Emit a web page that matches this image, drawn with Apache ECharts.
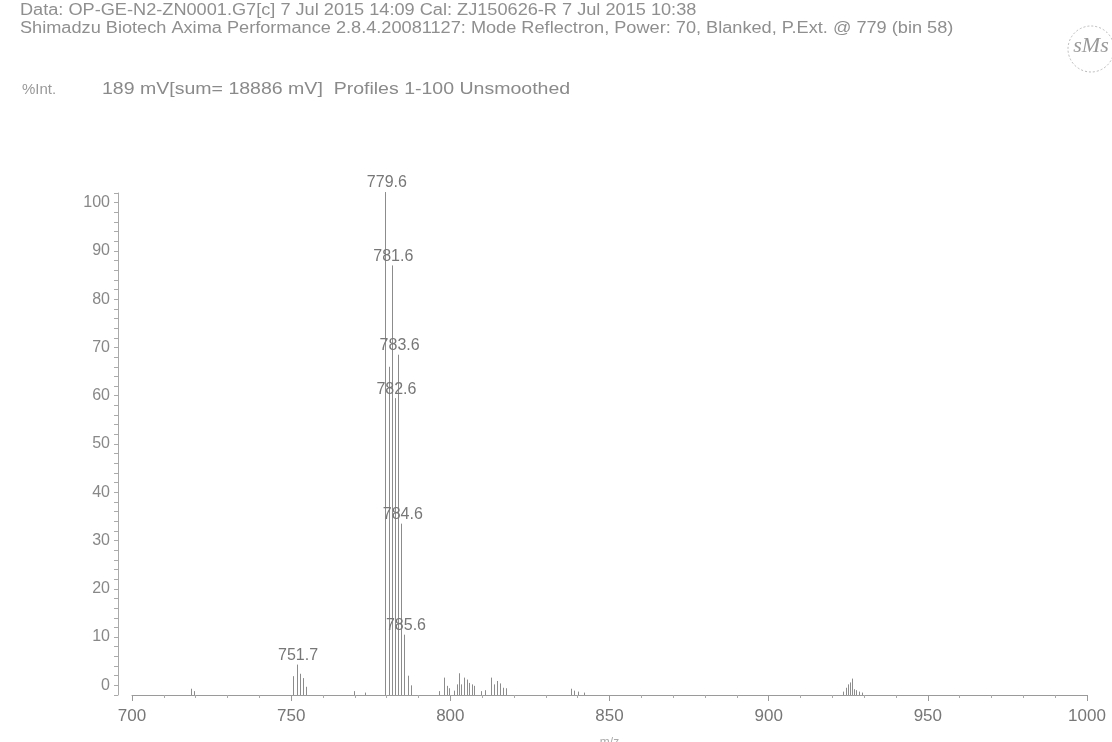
<!DOCTYPE html>
<html>
<head>
<meta charset="utf-8">
<script src="https://cdn.jsdelivr.net/npm/echarts@6/dist/echarts.min.js"></script>
<style>
html,body{margin:0;padding:0;background:#fff;}
#chart{width:1112px;height:742px;}
</style>
</head>
<body>
<div id="chart"></div>
<script>
// m/z of each stick and its intensity read against the printed %Int. axis
const peakMz = [
  718.6, 719.4, 769.7, 773.3,
  750.7, 751.7, 752.7, 753.7, 754.7,
  779.6, 780.6, 781.6, 782.6, 783.6, 784.6, 785.6, 786.6, 787.6,
  796.5, 797.9, 798.8, 799.6, 801.2, 802.1, 802.8, 803.5, 804.4, 805.1, 805.8, 806.7, 807.5,
  809.5, 811.0, 812.9, 813.8, 814.8, 815.5, 816.6, 817.6,
  837.9, 839.0, 840.0, 842.1,
  923.5, 924.2, 924.9, 925.5, 926.2, 926.9, 927.5, 928.3, 929.2
];
const peakInt = [
  -0.7, -1.2, -1.2, -1.5,
  1.9, 4.3, 2.4, 1.5, -0.3,
  102.2, 66, 87, 59.5, 68.5, 33.5, 10.5, 2, 0,
  -1.2, 1.6, -0.1, -0.6, -1.1, 0.2, 2.5, 0.2, 1.6, 1.2, 0.5, 0.2, -0.1,
  -1.2, -1.0, 1.6, 0.2, 0.9, 0.4, -0.5, -0.6,
  -0.7, -1.1, -1.3, -1.5,
  -1.3, -0.5, 0.2, 0.6, 1.4, -0.8, -1.0, -1.3, -1.5
];
// peaks that carry an m/z label
const labeledMz = [751.7, 779.6, 781.6, 782.6, 783.6, 784.6, 785.6];
// axis tick labels
const xTicks = [700, 750, 800, 850, 900, 950, 1000];
const yTicks = [0, 10, 20, 30, 40, 50, 60, 70, 80, 90, 100];

const header1 = 'Data: OP-GE-N2-ZN0001.G7[c] 7 Jul 2015 14:09 Cal: ZJ150626-R 7 Jul 2015 10:38';
const header2 = 'Shimadzu Biotech Axima Performance 2.8.4.20081127: Mode Reflectron, Power: 70, Blanked, P.Ext. @ 779 (bin 58)';
const yUnit = '%Int.';
const header3 = '189 mV[sum= 18886 mV]  Profiles 1-100 Unsmoothed';

const Y_MIN = -2, Y_MAX = 102;
const FONT = '"Liberation Sans", Arial, sans-serif';

const chart = echarts.init(document.getElementById('chart'), null, {renderer: 'canvas'});

const stickData = peakMz.map((m, i) => [m, peakInt[i]]);
const labelData = labeledMz.map(m => [m, peakInt[peakMz.indexOf(m)]]);

const option = {
  backgroundColor: '#ffffff',
  animation: false,
  grid: {left: 132, right: 25, top: 193, bottom: 47, containLabel: false, outerBoundsMode: 'none'},
  xAxis: {
    type: 'value',
    min: xTicks[0],
    max: xTicks[xTicks.length - 1],
    interval: 50,
    name: 'm/z',
    nameLocation: 'middle',
    nameGap: 42,
    nameTextStyle: {color: '#aaa', fontSize: 12, fontFamily: FONT},
    axisLine: {show: true, onZero: false, lineStyle: {color: '#9a9a9a', width: 1}},
    axisTick: {show: true, length: 6, lineStyle: {color: '#9a9a9a'}},
    minorTick: {show: true, splitNumber: 5, length: 3, lineStyle: {color: '#aaa'}},
    splitLine: {show: false},
    axisLabel: {color: '#777', fontSize: 17, fontFamily: FONT, margin: 13,
      formatter: v => xTicks.indexOf(v) >= 0 ? String(v) : ''}
  },
  yAxis: {
    type: 'value',
    min: Y_MIN,
    max: Y_MAX,
    interval: 2,
    offset: 14,
    axisLine: {show: true, onZero: false, lineStyle: {color: '#aaa', width: 1}},
    axisTick: {show: true, length: 4, lineStyle: {color: '#aaa'}},
    splitLine: {show: false},
    axisLabel: {color: '#888', fontSize: 16, fontFamily: FONT, margin: 8,
      formatter: v => yTicks.indexOf(v) >= 0 ? String(v) : ''}
  },
  series: [
    {
      type: 'custom',
      coordinateSystem: 'cartesian2d',
      data: stickData,
      encode: {x: 0, y: 1},
      clip: false,
      renderItem: function (params, api) {
        const x = api.value(0), y = api.value(1);
        const top = api.coord([x, y]);
        const base = api.coord([x, Y_MIN]);
        const px = Math.round(top[0]) + 0.5;
        return {
          type: 'line',
          shape: {x1: px, y1: top[1], x2: px, y2: base[1]},
          style: {stroke: '#8c8c8c', lineWidth: 1}
        };
      }
    },
    {
      type: 'custom',
      coordinateSystem: 'cartesian2d',
      data: labelData,
      encode: {x: 0, y: 1},
      clip: false,
      renderItem: function (params, api) {
        const x = api.value(0), y = api.value(1);
        const p = api.coord([x, y]);
        return {
          type: 'text',
          x: p[0] + 1.5,
          y: p[1] - 1,
          style: {
            text: x.toFixed(1),
            textAlign: 'center',
            textVerticalAlign: 'bottom',
            fill: '#777',
            font: '16px ' + FONT
          }
        };
      }
    }
  ],
  graphic: [
    {type: 'text', x: 20, y: 3, scaleX: 1.135,
      style: {text: header1, fill: '#8f8f8f', font: '16px ' + FONT}},
    {type: 'text', x: 20, y: 21, scaleX: 1.135,
      style: {text: header2, fill: '#8f8f8f', font: '16px ' + FONT}},
    {type: 'text', x: 22, y: 82,
      style: {text: yUnit, fill: '#999', font: '15px ' + FONT}},
    {type: 'text', x: 102, y: 82, scaleX: 1.22,
      style: {text: header3, fill: '#8a8a8a', font: '16px ' + FONT}},
    {type: 'circle', shape: {cx: 1091, cy: 49, r: 23},
      style: {fill: 'none', stroke: '#bbb', lineWidth: 1, lineDash: [2, 2]}},
    {type: 'text', x: 1091, y: 46,
      style: {text: 'sMs', textAlign: 'center', textVerticalAlign: 'middle',
        fill: '#999', font: 'italic 22px "Liberation Serif", serif'}}
  ]
};
chart.setOption(option);
</script>
</body>
</html>
